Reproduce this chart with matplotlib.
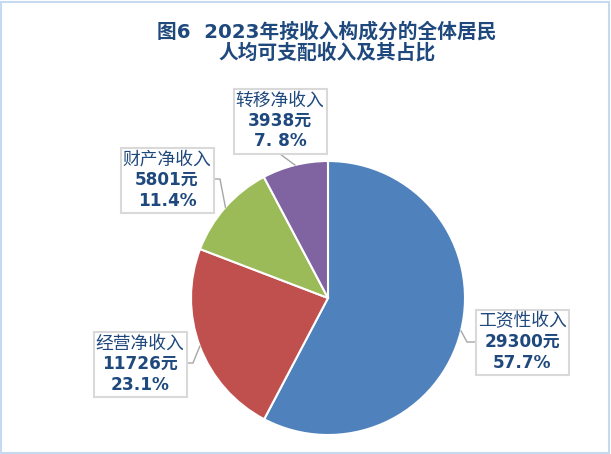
import numpy as np
import matplotlib
matplotlib.use('Agg')
import matplotlib.pyplot as plt
from matplotlib.patches import Rectangle

plt.rcParams['font.family'] = ['Noto Sans CJK SC', 'DejaVu Sans']

# data
categories = ['工资性收入', '经营净收入', '财产净收入', '转移净收入']
values = [29300, 11726, 5801, 3938]
pct_labels = ['57.7%', '23.1%', '11.4%', '7. 8%']
colors = ['#4F81BD', '#C0504D', '#9BBB59', '#8064A2']

W, H = 611, 454
fig = plt.figure(figsize=(W / 100, H / 100), dpi=100)
fig.patch.set_facecolor('white')
fig.patches.append(Rectangle((1 / W, 1 / H), 1 - 3 / W, 1 - 3 / H, transform=fig.transFigure,
                             fill=False, edgecolor='#C5D9F1', linewidth=1.5))

# pie centre and radius in pixels (from top-left)
cx, cy, R = 328, 298, 137
ax = fig.add_axes([(cx - R) / W, 1 - (cy + R) / H, 2 * R / W, 2 * R / H])

wedges, _ = ax.pie(values, colors=colors, startangle=90, counterclock=False, radius=1,
                   wedgeprops=dict(edgecolor='white', linewidth=1.5))
ax.set_xlim(-1, 1)
ax.set_ylim(-1, 1)
ax.axis('off')


def to_data(px, py):
    return (px - cx) / R, (cy - py) / R


# label box centres, elbow and box-side points (pixels)
box_centres = [(522, 342), (140, 364), (167, 180), (280, 121)]
elbows = [(467, 342), (193, 363), (220, 179), None]
ends = [(476, 342), (187, 363), (213, 179), (280, 154)]
bw, bh = 93, 65

text_col = '#1F497D'
num_font = ['DejaVu Sans', 'Noto Sans CJK SC']
for i, w in enumerate(wedges):
    mid = np.deg2rad((w.theta1 + w.theta2) / 2)
    pts = [(np.cos(mid), np.sin(mid))]
    if elbows[i] is not None:
        pts.append(to_data(*elbows[i]))
    pts.append(to_data(*ends[i]))
    xs, ys = zip(*pts)
    ax.plot(xs, ys, color='#A6A6A6', linewidth=1, clip_on=False, zorder=1)

    bxp, byp = box_centres[i]
    x0, y0 = to_data(bxp - bw / 2, byp + bh / 2)
    ax.add_patch(Rectangle((x0, y0), bw / R, bh / R, facecolor='white', edgecolor='#D9D9D9',
                           linewidth=1.5, clip_on=False, zorder=2))
    lh = 20.5
    ax.text(*to_data(bxp, byp - lh), categories[i], ha='center', va='center',
            fontsize=12.8, color=text_col, zorder=3)
    ax.text(*to_data(bxp, byp), f'{values[i]}元', ha='center', va='center',
            fontsize=12.2, fontweight='bold', color=text_col, zorder=3, family=num_font)
    ax.text(*to_data(bxp, byp + lh), pct_labels[i], ha='center', va='center',
            fontsize=12.2, fontweight='bold', color=text_col, zorder=3, family=num_font)

fig.text(327 / W, 1 - 32 / H, '图6  2023年按收入构成分的全体居民', ha='center', va='center',
         fontsize=14.2, fontweight='bold', color=text_col, family=num_font)
fig.text(327 / W, 1 - 53 / H, '人均可支配收入及其占比', ha='center', va='center',
         fontsize=14.2, fontweight='bold', color=text_col)

fig.savefig('out.png', dpi=100)
